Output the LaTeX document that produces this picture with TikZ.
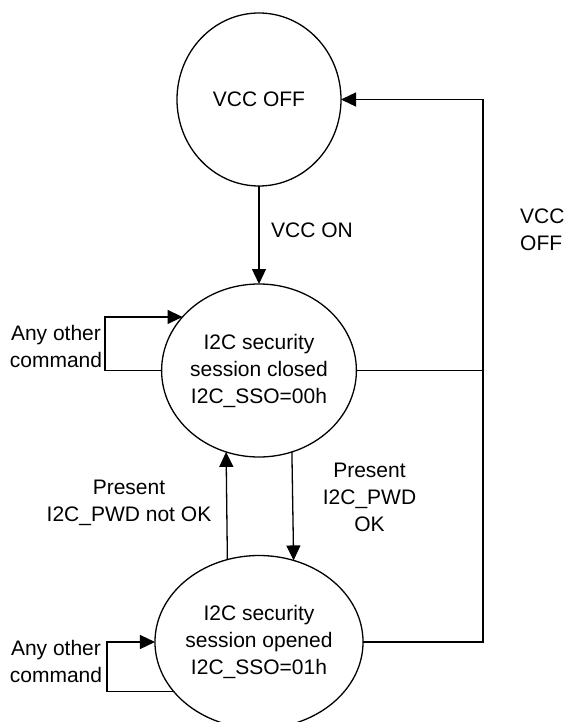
\documentclass[tikz,border=0pt]{standalone}
\usepackage{fontspec}
\setmainfont{Liberation Sans}
\usetikzlibrary{arrows.meta,shapes.geometric}
\begin{document}
\begin{tikzpicture}[x=1pt,y=-1pt,
  state/.style={draw,ellipse,line width=1.3pt,minimum width=164pt,minimum height=173pt,inner sep=0pt,outer sep=0pt,align=center,font=\fontsize{21}{27}\selectfont},
  arr/.style={line width=1.3pt,-{Triangle[length=15pt,width=14pt]}},
  ln/.style={line width=1.3pt},
  lbl/.style={align=center,inner sep=0pt,font=\fontsize{21}{27}\selectfont}]
\useasboundingbox (0,0) rectangle (568,722);
\clip (0,0) rectangle (568,722);
\node[state] (off) at (259,99.5) {VCC OFF};
\node[state] (closed) at (259,370.5) {I2C security\\session closed\\I2C\_SSO=00h};
\node[state] (opened) at (259,642) {I2C security\\session opened\\I2C\_SSO=01h};
\coordinate (rx) at (483,0);
% VCC ON
\draw[arr] (off.south) -- (closed.north);
\node[lbl,anchor=west] (von) at (271,230) {VCC ON};
% VCC OFF feedback
\draw[arr] (opened.east) -- (opened.east -| rx) -- (off.east -| rx) -- (off.east);
\draw[ln] (closed.east) -- (closed.east -| rx);
\node[lbl,anchor=west,align=left] (voff) at (520,230) {VCC\\OFF};
% self loops
\draw[arr] (closed.west) -- ++(-56.5,0) |- (closed.145.3);
\node[lbl] (any1) at (56,346) {Any other\\command};
\draw[arr] (opened.210.1) -- ++(-66.7,0) |- (opened.west);
\node[lbl] (any2) at (56,661) {Any other\\command};
% password transitions
\draw[arr] (opened.111.16) -- (closed.248.84);
\node[lbl] (nok) at (129,502.5) {Present\\I2C\_PWD not OK};
\draw[arr] (closed.292.6) -- (opened.67.4);
\node[lbl] (ok) at (369.5,497.5) {Present\\I2C\_PWD\\OK};
\end{tikzpicture}
\end{document}
